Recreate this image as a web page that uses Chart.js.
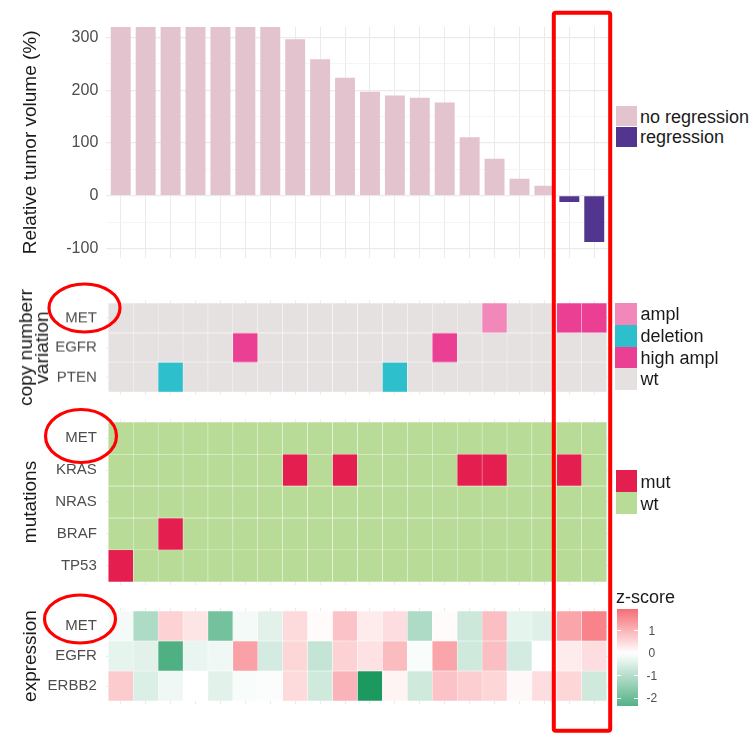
<!DOCTYPE html>
<html>
<head>
<meta charset="utf-8">
<script src="https://cdn.jsdelivr.net/npm/chart.js@4.4.1/dist/chart.umd.min.js"></script>
<style>
  body { margin: 0; background: #fff; font-family: "Liberation Sans", Arial, sans-serif; }
  #wrap { position: relative; width: 753px; height: 733px; overflow: hidden; }
  #wrap canvas { position: absolute; left: 0; }
  .sw { position: absolute; width: 21px; }
  .lab { position: absolute; font-size: 18px; line-height: 20px; color: #1a1a1a; white-space: nowrap; }
  .cb { position: absolute; font-size: 12px; line-height: 14px; color: #4d4d4d; }
  #marks { position: absolute; left: 0; top: 0; pointer-events: none; }
</style>
</head>
<body>
<div id="wrap"></div>
<script>
// samples, ordered by tumour response
const samples = ['1','2','3','4','5','6','7','8','9','10','11','12','13','14','15','16','17','18','19','20'];
const tumorVolume = [320, 320, 320, 320, 320, 320, 320, 297, 259, 224, 197, 190, 186, 177, 111, 70, 32, 19, -12, -88];
const volumeGrid = [-100, -50, 0, 50, 100, 150, 200, 250, 300];
const volumeTicks = [-100, 0, 100, 200, 300];

// copy number variation
const cnvGenes = ['MET', 'EGFR', 'PTEN'];
const cnvMET  = ['wt','wt','wt','wt','wt','wt','wt','wt','wt','wt','wt','wt','wt','wt','wt','ampl','wt','wt','high ampl','high ampl'];
const cnvEGFR = ['wt','wt','wt','wt','wt','high ampl','wt','wt','wt','wt','wt','wt','wt','high ampl','wt','wt','wt','wt','wt','wt'];
const cnvPTEN = ['wt','wt','deletion','wt','wt','wt','wt','wt','wt','wt','wt','deletion','wt','wt','wt','wt','wt','wt','wt','wt'];
const cnvLevels = ['ampl', 'deletion', 'high ampl', 'wt'];

// mutations
const mutGenes = ['MET', 'KRAS', 'NRAS', 'BRAF', 'TP53'];
const mutMET  = ['wt','wt','wt','wt','wt','wt','wt','wt','wt','wt','wt','wt','wt','wt','wt','wt','wt','wt','wt','wt'];
const mutKRAS = ['wt','wt','wt','wt','wt','wt','wt','mut','wt','mut','wt','wt','wt','wt','mut','mut','wt','wt','mut','wt'];
const mutNRAS = ['wt','wt','wt','wt','wt','wt','wt','wt','wt','wt','wt','wt','wt','wt','wt','wt','wt','wt','wt','wt'];
const mutBRAF = ['wt','wt','mut','wt','wt','wt','wt','wt','wt','wt','wt','wt','wt','wt','wt','wt','wt','wt','wt','wt'];
const mutTP53 = ['mut','wt','wt','wt','wt','wt','wt','wt','wt','wt','wt','wt','wt','wt','wt','wt','wt','wt','wt','wt'];
const mutLevels = ['mut', 'wt'];

// expression z-scores
const exprGenes = ['MET', 'EGFR', 'ERBB2'];
const exprMET   = [-0.15, -1.1, 0.6, 0.35, -1.9, -0.15, -0.4, 0.5, 0.05, 0.8, 0.25, 0.45, -1.1, 0.05, -0.7, 0.85, -0.35, -0.45, 1.2, 1.65];
const exprEGFR  = [-0.35, -0.4, -2.4, -0.3, -0.2, 1.25, -0.6, 0.55, -0.8, 0.6, 0.4, 0.9, -0.1, 1.2, -0.65, 0.85, -0.6, 0.0, 0.25, 0.45];
const exprERBB2 = [0.7, -0.5, -0.2, 0.0, -0.4, -0.1, -0.05, 0.5, -0.65, 1.0, -3.1, 0.15, -0.65, 0.8, 0.65, 0.55, 0.1, 0.45, 0.55, -0.65];
const zLabels = [1, 0, -1, -2];

const cnvColors = {'ampl': '#F287BA', 'deletion': '#2EBFCC', 'high ampl': '#EB3F93', 'wt': '#E6E1E1'};
const mutColors = {'mut': '#E41E4F', 'wt': '#B8DC98'};

const PLOT_L = 105.8, PLOT_R = 609.2, CANVAS_W = 612;
const wrap = document.getElementById('wrap');
Chart.defaults.font.family = '"Liberation Sans", Arial, sans-serif';

function zColor(z) {
    const hi = [245, 90, 100], lo = [20, 150, 90];
    const c = z >= 0 ? hi : lo;
    const t = z >= 0 ? Math.min(z / 2.2, 1) : Math.min(-z / 3.2, 1);
    const m = c.map(v => Math.round(255 + (v - 255) * t));
    return `rgb(${m[0]},${m[1]},${m[2]})`;
}

function mountCanvas(top, height) {
    const c = document.createElement('canvas');
    c.width = CANVAS_W; c.height = height;
    c.style.top = top + 'px';
    c.style.width = CANVAS_W + 'px'; c.style.height = height + 'px';
    wrap.appendChild(c);
    return c;
}

// columns share one linear axis so all panels line up
function sampleAxis(bottom) {
    return {
        type: 'linear', min: -0.6, max: samples.length - 0.4, offset: false, bounds: 'data',
        grid: { color: '#EBEBEB', lineWidth: 1, drawTicks: false, offset: false },
        border: { display: false },
        ticks: { display: false },
        afterBuildTicks: s => { s.ticks = samples.map((_, i) => ({ value: i })); },
        afterFit: s => { s.height = bottom; s.paddingLeft = 0; s.paddingRight = 0; }
    };
}

// --- tumor volume bars ---
const barCanvas = mountCanvas(0, 280);
new Chart(barCanvas, {
    type: 'bar',
    data: {
        datasets: [{
            data: tumorVolume.map((v, k) => ({ x: k, y: v })),
            backgroundColor: tumorVolume.map(v => v < 0 ? '#51358F' : '#E2C3CE'),
            barPercentage: 0.8,
            categoryPercentage: 1,
            borderWidth: 0
        }]
    },
    options: {
        responsive: false,
        animation: false,
        layout: { padding: { top: 26.7, right: CANVAS_W - PLOT_R, left: 0, bottom: 0 } },
        plugins: { legend: { display: false }, tooltip: { enabled: false } },
        scales: {
            x: sampleAxis(22),
            y: {
                type: 'linear', min: -118.3, max: 320.7, bounds: 'data',
                afterBuildTicks: s => { s.ticks = volumeGrid.map(v => ({ value: v })); },
                grid: {
                    drawTicks: false,
                    color: c => volumeTicks.includes(c.tick.value) ? '#EBEBEB' : '#F3F3F3',
                    lineWidth: c => volumeTicks.includes(c.tick.value) ? 1.2 : 0.8
                },
                border: { display: false },
                ticks: {
                    autoSkip: false, padding: 7.5, color: '#4D4D4D', font: { size: 16 },
                    callback: v => volumeTicks.includes(v) ? String(v) : ''
                },
                title: {
                    display: true, text: 'Relative tumor volume (%)', color: '#1A1A1A',
                    font: { size: 19, lineHeight: 1.2 }, padding: { top: 19 }
                },
                afterFit: s => { s.width = PLOT_L; s.paddingTop = 0; s.paddingBottom = 0; }
            }
        }
    }
});

// --- tile panels, drawn as floating bars ---
function heatmap(panelTop, rowPx, genes, rows, colorOf, title, titlePad, titleLH) {
    const n = genes.length, pad = 25;
    const h = (n + 0.2) * rowPx;
    const canvas = mountCanvas(panelTop - pad, h + 2 * pad);
    const datasets = genes.map((g, i) => {
        const r = n - 1 - i;
        return {
            label: g,
            data: rows[i].map((v, k) => ({ x: k, y: [r, r + 1] })),
            backgroundColor: rows[i].map(colorOf),
            borderColor: 'rgba(255,255,255,0.7)',
            borderWidth: 0.5,
            borderSkipped: false,
            barPercentage: 1,
            categoryPercentage: 1,
            grouped: false
        };
    });
    return new Chart(canvas, {
        type: 'bar',
        data: { datasets },
        options: {
            responsive: false,
            animation: false,
            layout: { padding: { top: pad, right: CANVAS_W - PLOT_R, left: 0, bottom: 0 } },
            plugins: { legend: { display: false }, tooltip: { enabled: false } },
            scales: {
                x: sampleAxis(pad),
                y: {
                    type: 'linear', min: -0.1, max: n + 0.1, bounds: 'data',
                    afterBuildTicks: s => { s.ticks = genes.map((g, i) => ({ value: n - 1 - i + 0.5 })); },
                    grid: { color: '#EBEBEB', drawTicks: false },
                    border: { display: false },
                    ticks: {
                        autoSkip: false, padding: 9, color: '#4D4D4D', font: { size: 15 },
                        callback: v => genes[Math.round(n - 0.5 - v)]
                    },
                    title: {
                        display: true, text: title, color: '#1A1A1A',
                        font: { size: 19, lineHeight: titleLH }, padding: { top: titlePad }
                    },
                    afterFit: s => { s.width = PLOT_L; s.paddingTop = 0; s.paddingBottom = 0; }
                }
            }
        }
    });
}

heatmap(299.7, 29.67, cnvGenes, [cnvMET, cnvEGFR, cnvPTEN], v => cnvColors[v],
        ['copy numberr', 'variation'], 19, 0.842);
heatmap(418.5, 32, mutGenes, [mutMET, mutKRAS, mutNRAS, mutBRAF, mutTP53], v => mutColors[v],
        'mutations', 19, 1.2);
heatmap(607.7, 30, exprGenes, [exprMET, exprEGFR, exprERBB2], zColor,
        'expression', 19, 1.2);

// --- legends ---
function swatch(x, y, w, h, color) {
    const d = document.createElement('div');
    d.className = 'sw';
    d.style.cssText = `left:${x}px;top:${y}px;width:${w}px;height:${h}px;background:${color}`;
    wrap.appendChild(d);
}
function label(x, cy, text, cls) {
    const d = document.createElement('div');
    d.className = cls || 'lab';
    d.textContent = text;
    d.style.left = x + 'px';
    d.style.top = (cy - (cls === 'cb' ? 7 : 10)) + 'px';
    wrap.appendChild(d);
}

swatch(615.5, 105.8, 21.5, 20.6, '#E2C3CE');
swatch(615.5, 126.6, 21.5, 20.4, '#51358F');
label(640, 117, 'no regression');
label(640, 137, 'regression');

cnvLevels.forEach((lv, i) => {
    const y = 303.3 + i * 21.7;
    swatch(614.5, y, 22, 21.5, cnvColors[lv]);
    label(640.5, y + 11, lv);
});

mutLevels.forEach((lv, i) => {
    const y = 470 + i * 22;
    swatch(615.5, y, 21.5, 21.8, mutColors[lv]);
    label(640.5, y + 11.5, lv);
});

// z-score colour bar
const zTitle = document.createElement('div');
zTitle.className = 'lab';
zTitle.textContent = 'z-score';
zTitle.style.left = '616px';
zTitle.style.top = '587px';
wrap.appendChild(zTitle);

const zPix = v => 630.7 - (v - 1) * 22.53;
const barTop = 609.3, barBot = 706;
const vTop = 1 + (630.7 - barTop) / 22.53, vBot = -2 - (barBot - zPix(-2)) / 22.53;
const stops = [];
for (let i = 0; i <= 20; i++) {
    const v = vTop + (vBot - vTop) * i / 20;
    stops.push(`${zColor(v)} ${(i * 5)}%`);
}
const cbar = document.createElement('div');
cbar.style.cssText = `position:absolute;left:617.3px;top:${barTop}px;width:21px;height:${barBot - barTop}px;background:linear-gradient(to bottom, ${stops.join(',')})`;
wrap.appendChild(cbar);
zLabels.forEach(v => {
    const y = zPix(v);
    const t1 = document.createElement('div');
    t1.style.cssText = `position:absolute;left:617.3px;top:${y - 0.5}px;width:4px;height:1px;background:#fff`;
    const t2 = document.createElement('div');
    t2.style.cssText = `position:absolute;left:634.3px;top:${y - 0.5}px;width:4px;height:1px;background:#fff`;
    wrap.appendChild(t1); wrap.appendChild(t2);
    label(v < 0 ? 646.5 : 648.5, y, String(v), 'cb');
});

// --- red highlight marks ---
const svgNS = 'http://www.w3.org/2000/svg';
const svg = document.createElementNS(svgNS, 'svg');
svg.setAttribute('id', 'marks');
svg.setAttribute('width', 753);
svg.setAttribute('height', 733);
const rect = document.createElementNS(svgNS, 'rect');
[['x', 553.8], ['y', 12.8], ['width', 56.4], ['height', 718], ['rx', 2],
 ['fill', 'none'], ['stroke', '#FF0000'], ['stroke-width', 4]].forEach(a => rect.setAttribute(a[0], a[1]));
svg.appendChild(rect);
[[84.5, 308, 35.5, 24], [81, 436, 35.5, 26.5], [80, 619, 35.5, 24]].forEach(e => {
    const el = document.createElementNS(svgNS, 'ellipse');
    el.setAttribute('cx', e[0]); el.setAttribute('cy', e[1]);
    el.setAttribute('rx', e[2]); el.setAttribute('ry', e[3]);
    el.setAttribute('fill', 'none'); el.setAttribute('stroke', '#FF0000'); el.setAttribute('stroke-width', 3.2);
    svg.appendChild(el);
});
wrap.appendChild(svg);
</script>
</body>
</html>
